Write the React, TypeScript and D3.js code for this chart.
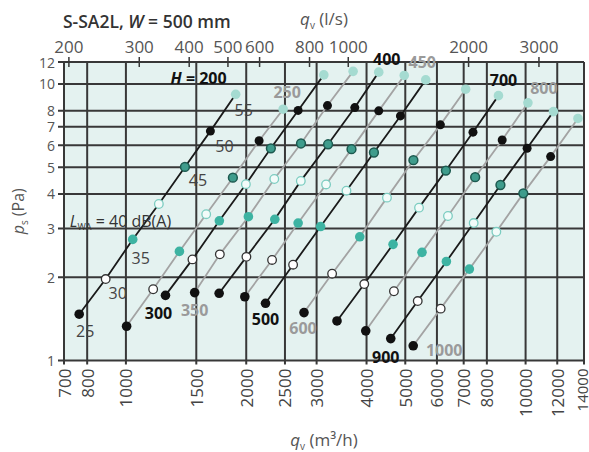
import React from "react";
import * as d3 from "d3";

// damper heights H (mm), one line each
const heights = [200, 250, 300, 350, 400, 450, 500, 600, 700, 800, 900, 1000];
// sound power levels Lwa dB(A) marked along every line
const levels = [25, 30, 35, 40, 45, 50, 55];

// q_v (m3/h) at each level, one row per H
const flows = [
  [764, 890, 1040, 1209, 1405, 1627, 1882],
  [1004, 1170, 1361, 1588, 1852, 2154, 2474],
  [1256, 1467, 1713, 1996, 2305, 2697, 3127],
  [1486, 1718, 2025, 2351, 2742, 3194, 3702],
  [1711, 2002, 2358, 2739, 3205, 3738, 4291],
  [1984, 2321, 2697, 3168, 3668, 4291, 4970],
  [2235, 2620, 3070, 3563, 4174, 4863, 5625],
  [2790, 3280, 3847, 4499, 5240, 6121, 7081],
  [3374, 3948, 4660, 5412, 6318, 7385, 8553],
  [3982, 4684, 5506, 6394, 7479, 8738, 10135],
  [4599, 5372, 6336, 7415, 8651, 10088, 11740],
  [5234, 6131, 7233, 8450, 9869, 11552, 13520],
];

// p_s (Pa) at each level, one row per H
const pressures = [
  [1.47, 1.97, 2.74, 3.68, 5.01, 6.75, 9.17],
  [1.33, 1.81, 2.48, 3.38, 4.58, 6.23, 8.1],
  [1.72, 2.32, 3.2, 4.34, 5.85, 8.02, 10.78],
  [1.76, 2.42, 3.31, 4.53, 6.09, 8.35, 11.1],
  [1.75, 2.37, 3.24, 4.46, 6.05, 8.21, 11.03],
  [1.7, 2.31, 3.14, 4.33, 5.81, 7.99, 10.73],
  [1.61, 2.22, 3.05, 4.11, 5.65, 7.66, 10.34],
  [1.49, 2.06, 2.8, 3.88, 5.3, 7.11, 9.57],
  [1.39, 1.89, 2.63, 3.57, 4.86, 6.69, 9.07],
  [1.28, 1.78, 2.46, 3.33, 4.6, 6.27, 8.54],
  [1.2, 1.64, 2.28, 3.14, 4.31, 5.85, 7.94],
  [1.13, 1.54, 2.14, 2.92, 4.02, 5.46, 7.5],
];

const bottomTicks = [700, 800, 1000, 1500, 2000, 2500, 3000, 4000, 5000, 6000, 7000, 8000, 10000, 12000, 14000];
const topTicks = [200, 300, 400, 500, 600, 800, 1000, 2000, 3000];
const yTicks = [1, 2, 3, 4, 5, 6, 7, 8, 10, 12];

const W = 589;
const H = 452;
const left = 64;
const right = 584;
const top = 62;
const bottom = 360.5;
const font = "'Open Sans', 'Noto Sans', sans-serif";
const gridColor = "#383838";

// marker look for each level
const markerStyle = [
  { fill: "#111", stroke: "none", sw: 0, r: 4.8 },
  { fill: "#fff", stroke: "#333", sw: 1.3, r: 4.3 },
  { fill: "#3db3a2", stroke: "none", sw: 0, r: 4.8 },
  { fill: "#f2fbf9", stroke: "#7ccdc1", sw: 1.3, r: 4.3 },
  { fill: "#3f9c8c", stroke: "#1d5a50", sw: 1.5, r: 4.4 },
  { fill: "#111", stroke: "none", sw: 0, r: 4.5 },
  { fill: "#a5dbd1", stroke: "none", sw: 0, r: 4.8 },
];

// where each H label sits: next to first (0) or last (6) marker
const hLabelSpot = [
  { i: 6, dx: -9, dy: -10 },
  { i: 6, dx: 4, dy: -11 },
  { i: 0, dx: -7, dy: 24 },
  { i: 0, dx: 0, dy: 23 },
  { i: 6, dx: 8, dy: -7 },
  { i: 6, dx: 18, dy: -7 },
  { i: 0, dx: 0, dy: 22 },
  { i: 0, dx: -1, dy: 21 },
  { i: 6, dx: 5, dy: -10 },
  { i: 6, dx: 16, dy: -9 },
  { i: 0, dx: -5, dy: 24 },
  { i: 0, dx: 31, dy: 10 },
];

// level label offsets from the H = 200 markers
const levelLabelSpot = [
  { dx: 6, dy: 23 },
  { dx: 12, dy: 20 },
  { dx: 8, dy: 25 },
  { dx: 0, dy: 0 },
  { dx: 13, dy: 19 },
  { dx: 14, dy: 21 },
  { dx: 8, dy: 22 },
];

const App = () => {
  const x = d3.scaleLog().domain([700, 14000]).range([left, right]);
  const xTop = d3.scaleLog().domain([700 / 3.6, 14000 / 3.6]).range([left, right]);
  const y = d3.scaleLog().domain([1, 12]).range([bottom, top]);

  const line = d3
    .line<[number, number]>()
    .x((d) => x(d[0]))
    .y((d) => y(d[1]));

  const midX = (left + right) / 2;
  const midY = (top + bottom) / 2;

  return (
    <svg
      width={W}
      height={H}
      style={{ position: "absolute", left: 0, top: 0, background: "#fff" }}
      fontFamily={font}
    >
      <rect x={left} y={top} width={right - left} height={bottom - top} fill="#e4f2f0" />

      {/* grid */}
      {bottomTicks.map((t) => (
        <line key={"v" + t} x1={x(t)} x2={x(t)} y1={top} y2={bottom + 4} stroke={gridColor} strokeWidth={2} />
      ))}
      {yTicks.map((t) => (
        <line key={"h" + t} x1={left - 6} x2={right} y1={y(t)} y2={y(t)} stroke={gridColor} strokeWidth={2} />
      ))}
      {topTicks.map((t) => (
        <line key={"t" + t} x1={xTop(t)} x2={xTop(t)} y1={top - 5} y2={top + 5} stroke={gridColor} strokeWidth={1.5} />
      ))}

      {/* tick labels */}
      {bottomTicks.map((t) => (
        <text
          key={"bl" + t}
          transform={`translate(${x(t) - (t === 14000 ? 2.5 : 0)},${bottom + 8}) rotate(-90)`}
          textAnchor="end"
          dominantBaseline="central"
          fontSize={t === 14000 ? 15 : 17}
          fill="#444"
        >
          {t}
        </text>
      ))}
      {topTicks.map((t) => (
        <text key={"tl" + t} x={xTop(t)} y={top - 9} textAnchor="middle" fontSize={17} fill="#555">
          {t}
        </text>
      ))}
      {yTicks.map((t) => (
        <text key={"yl" + t} x={left - 9} y={y(t)} textAnchor="end" dominantBaseline="central" fontSize={14} fill="#555">
          {t}
        </text>
      ))}

      {/* titles */}
      <text x={63} y={28} fontSize={17.5} fontWeight={600} fill="#333">
        S-SA2L, <tspan fontStyle="italic">W</tspan> = 500 mm
      </text>
      <text x={midX} y={25} textAnchor="middle" fontSize={17} fill="#555">
        <tspan fontStyle="italic">q</tspan>
        <tspan fontSize={10} dy={4}>v</tspan>
        <tspan dy={-4}> (l/s)</tspan>
      </text>
      <text x={midX} y={446} textAnchor="middle" fontSize={17} fill="#555">
        <tspan fontStyle="italic">q</tspan>
        <tspan fontSize={10} dy={4}>v</tspan>
        <tspan dy={-4}> (m³/h)</tspan>
      </text>
      <text transform={`translate(24,${midY}) rotate(-90)`} textAnchor="middle" fontSize={16} fill="#555">
        <tspan fontStyle="italic">p</tspan>
        <tspan fontSize={10} dy={4}>s</tspan>
        <tspan dy={-4}> (Pa)</tspan>
      </text>

      {/* lines */}
      {heights.map((h, k) => (
        <path
          key={"l" + h}
          d={line(flows[k].map((q, i) => [q, pressures[k][i]] as [number, number])) || ""}
          fill="none"
          stroke={k % 2 === 0 ? "#1a1a1a" : "#a3a3a3"}
          strokeWidth={1.8}
        />
      ))}

      {/* markers */}
      {heights.map((h, k) =>
        levels.map((lv, i) => {
          const s = markerStyle[i];
          return (
            <circle
              key={`m${h}-${lv}`}
              cx={x(flows[k][i])}
              cy={y(pressures[k][i])}
              r={s.r}
              fill={s.fill}
              stroke={s.stroke}
              strokeWidth={s.sw}
            />
          );
        })
      )}

      {/* H labels */}
      {heights.map((h, k) => {
        const spot = hLabelSpot[k];
        const px = x(flows[k][spot.i]) + spot.dx;
        const py = y(pressures[k][spot.i]) + spot.dy;
        const dark = k % 2 === 0;
        return (
          <text
            key={"hl" + h}
            x={px}
            y={py}
            textAnchor={k === 0 ? "end" : "middle"}
            fontSize={16}
            fontWeight={700}
            fill={dark ? "#111" : "#9a9a9a"}
          >
            {k === 0 ? (
              <>
                <tspan fontStyle="italic">H</tspan> = {h}
              </>
            ) : (
              h
            )}
          </text>
        );
      })}

      {/* level labels along H = 200 */}
      {levels.map((lv, i) => {
        const px = x(flows[0][i]);
        const py = y(pressures[0][i]);
        if (lv === 40) {
          return (
            <text key={"lv" + lv} x={px - 89} y={py + 23} fontSize={16} fill="#333">
              <tspan fontStyle="italic">L</tspan>
              <tspan fontSize={9} dy={3}>WA</tspan>
              <tspan dy={-3}> = {lv} dB(A)</tspan>
            </text>
          );
        }
        const spot = levelLabelSpot[i];
        return (
          <text key={"lv" + lv} x={px + spot.dx} y={py + spot.dy} textAnchor="middle" fontSize={16} fill="#444">
            {lv}
          </text>
        );
      })}
    </svg>
  );
};

export default App;
